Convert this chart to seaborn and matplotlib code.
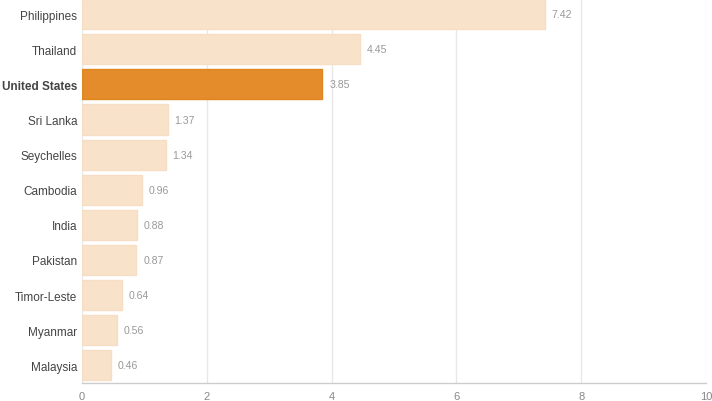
import numpy as np
import pandas as pd
import matplotlib
matplotlib.use('Agg')
import matplotlib.pyplot as plt
import seaborn as sns

countries = ['Philippines', 'Thailand', 'United States', 'Sri Lanka', 'Seychelles',
             'Cambodia', 'India', 'Pakistan', 'Timor-Leste', 'Myanmar', 'Malaysia']
values = [7.42, 4.45, 3.85, 1.37, 1.34, 0.96, 0.88, 0.87, 0.64, 0.56, 0.46]
highlight = 'United States'
x_ticks = [0, 2, 4, 6, 8, 10]

df = pd.DataFrame({'country': countries, 'value': values})

sns.set_style('white')
plt.rcParams['font.family'] = ['Liberation Sans', 'DejaVu Sans']

fig = plt.figure(figsize=(7.12, 4.02), dpi=100)
ax = fig.add_axes([0.1152, 0.045, 0.8764, 0.961])

light = '#F8E2CA'
dark = '#E48C2B'
palette = {c: (dark if c == highlight else light) for c in countries}

sns.barplot(data=df, x='value', y='country', hue='country', palette=palette,
            order=countries, width=0.86, legend=False, ax=ax, saturation=1)

for bar, c in zip(ax.patches, countries):
    bar.set_edgecolor('#E0861F' if c == highlight else '#F6DDC4')
    bar.set_linewidth(1)

for i, v in enumerate(values):
    ax.text(v + 0.11, i, f'{v:.2f}', va='center', ha='left', fontsize=7.6, color='#999999')

ax.set_xlim(0, 10)
ax.set_xticks(x_ticks)
ax.set_xticklabels([str(t) for t in x_ticks], fontsize=8, color='#888888')
ax.set_axisbelow(True)
ax.xaxis.grid(True, color='#E8E8E8', linewidth=1)
ax.yaxis.grid(False)
ax.set_xlabel('')
ax.set_ylabel('')

for lab in ax.get_yticklabels():
    lab.set_fontsize(8.5)
    lab.set_color('#444444')
    if lab.get_text() == highlight:
        lab.set_fontweight('bold')

ax.tick_params(axis='y', length=0, pad=3.5)
ax.tick_params(axis='x', length=3, color='#CCCCCC', pad=3)
for s in ['top', 'right', 'left']:
    ax.spines[s].set_visible(False)
ax.spines['bottom'].set_color('#CCCCCC')
ax.spines['bottom'].set_linewidth(1)

fig.savefig('out.png', dpi=100)
